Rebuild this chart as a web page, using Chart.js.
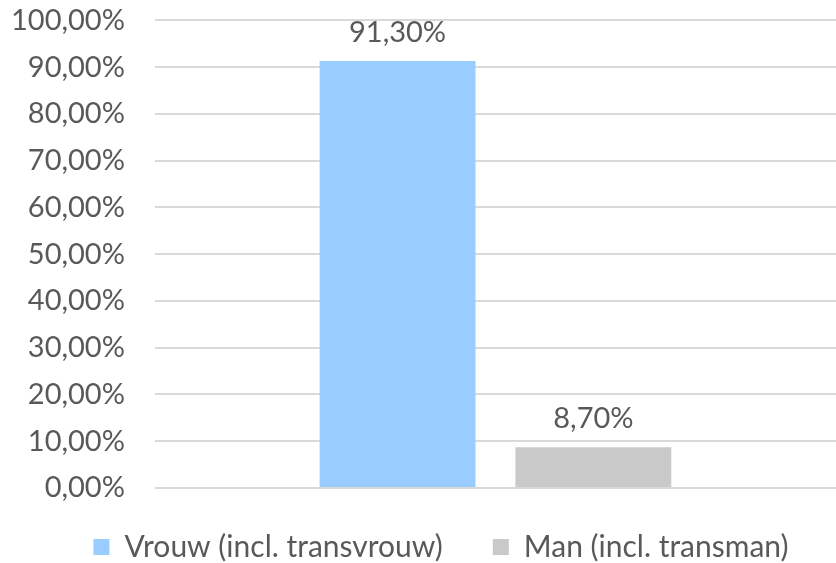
<!DOCTYPE html>
<html>
<head>
<meta charset="utf-8">
<script src="https://cdn.jsdelivr.net/npm/chart.js@4.4.0/dist/chart.umd.min.js"></script>
<style>
    html, body { margin: 0; padding: 0; background: #fff; }
    #wrap { width: 836px; height: 563px; }
</style>
</head>
<body>
<div id="wrap"><canvas id="genderChart"></canvas></div>
<script>
// Chart data
const categories = [''];
const seriesNames = ['Vrouw (incl. transvrouw)', 'Man (incl. transman)'];
const vrouwValues = [91.3];
const manValues = [8.7];
const yTicks = [0, 10, 20, 30, 40, 50, 60, 70, 80, 90, 100];

const textColor = '#595959';
const fontFamily = "Lato, 'Open Sans', sans-serif";

function pct(v, digits) {
    return v.toFixed(digits).replace('.', ',') + '%';
}

// Draws the value above each bar
const valueLabels = {
    id: 'valueLabels',
    afterDatasetsDraw(chart) {
        const ctx = chart.ctx;
        ctx.save();
        ctx.font = '29px ' + fontFamily;
        ctx.fillStyle = textColor;
        ctx.textAlign = 'center';
        ctx.textBaseline = 'bottom';
        chart.data.datasets.forEach((ds, i) => {
            chart.getDatasetMeta(i).data.forEach((bar, j) => {
                ctx.fillText(pct(ds.data[j], 2), bar.x, bar.y - 14);
            });
        });
        ctx.restore();
    }
};

// Nudges the legend a little, like the original
const legendShift = {
    id: 'legendShift',
    afterLayout(chart) {
        const lg = chart.legend;
        if (!lg) return;
        lg.left += 14;
        lg.right += 14;
        lg.top -= 6;
        lg.bottom -= 6;
    }
};

function initGenderChart() {
    const ctx = document.getElementById('genderChart');
    if (!ctx) return;

    new Chart(ctx, {
        type: 'bar',
        data: {
            labels: categories,
            datasets: [{
                label: seriesNames[0],
                data: vrouwValues,
                backgroundColor: '#99CCFF'
            }, {
                label: seriesNames[1],
                data: manValues,
                backgroundColor: '#C9C9C9'
            }]
        },
        options: {
            responsive: true,
            maintainAspectRatio: false,
            animation: false,
            categoryPercentage: 0.575,
            barPercentage: 0.796,
            layout: { padding: { top: 0, left: 8, right: -10, bottom: -15 } },
            plugins: {
                legend: {
                    display: true,
                    position: 'bottom',
                    labels: {
                        font: { family: fontFamily, size: 30 },
                        color: textColor,
                        boxWidth: 16,
                        boxHeight: 16,
                        padding: 50
                    }
                },
                tooltip: { enabled: false }
            },
            scales: {
                x: { display: false },
                y: {
                    min: 0,
                    max: 100,
                    afterBuildTicks(axis) {
                        axis.ticks = yTicks.map(v => ({ value: v }));
                    },
                    ticks: {
                        color: textColor,
                        font: { family: fontFamily, size: 29 },
                        padding: 3,
                        callback: v => pct(v, 2)
                    },
                    grid: {
                        color: '#D9D9D9',
                        lineWidth: 2,
                        drawTicks: true,
                        tickLength: 27,
                        tickColor: 'rgba(0,0,0,0)'
                    },
                    border: { display: false }
                }
            }
        },
        plugins: [valueLabels, legendShift]
    });
}

document.addEventListener('DOMContentLoaded', initGenderChart);
</script>
</body>
</html>
